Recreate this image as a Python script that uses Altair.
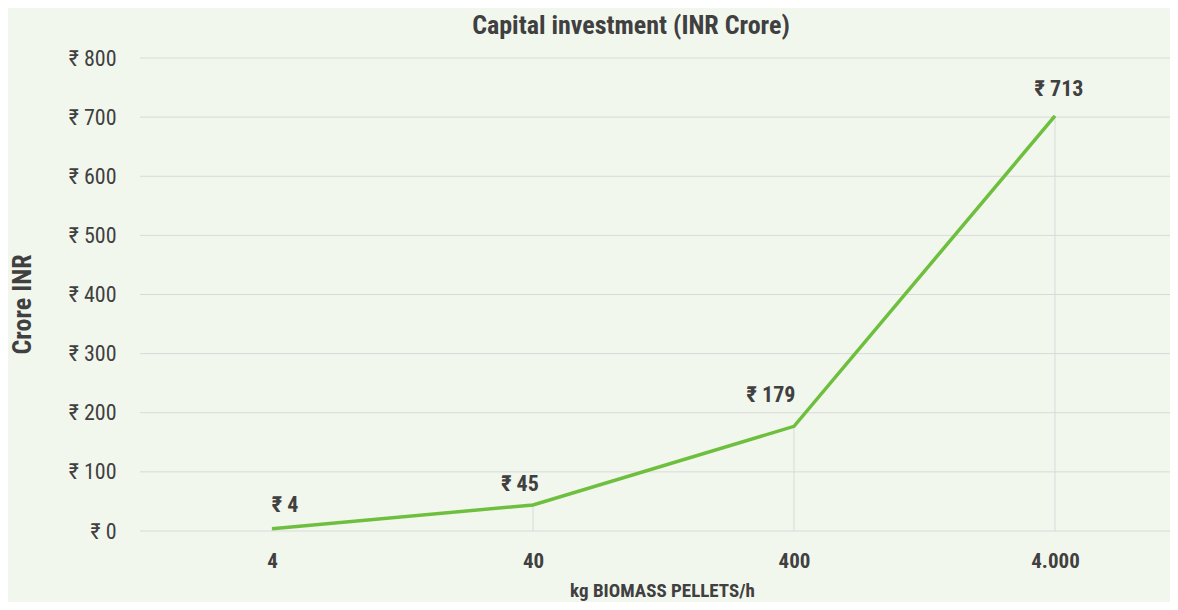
import altair as alt
import pandas as pd

# Data
categories = ["4", "40", "400", "4.000"]
values = [4, 44, 177, 702]
value_labels = ["₹ 4", "₹ 45", "₹ 179", "₹ 713"]
y_ticks = [0, 100, 200, 300, 400, 500, 600, 700, 800]

df = pd.DataFrame({"cat": categories, "val": values, "lab": value_labels})
grid_df = pd.DataFrame({"val": y_ticks})

FONT = "Roboto Condensed, Liberation Sans Narrow, Roboto, sans-serif"
TEXT = "#404040"
GRID = "#d9d9d9"
LINE = "#6fbf3f"

x_enc = alt.X("cat:N", sort=categories,
              scale=alt.Scale(type="point", range=[132, 915], padding=0),
              axis=alt.Axis(title="kg BIOMASS PELLETS/h", labelAngle=0, grid=False,
                            ticks=False, domain=False, labelPadding=19,
                            labelFontSize=21, labelFontWeight="bold",
                            titleFontSize=19, titleFontWeight="bold",
                            titlePadding=10, titleX=522))
y_scale = alt.Scale(domain=[0, 800], nice=False)
y_axis = alt.Axis(title="Crore INR", values=y_ticks,
                  labelExpr="'₹ ' + datum.value",
                  grid=False, ticks=False, domain=False,
                  labelPadding=24, labelFontSize=22,
                  titleFontSize=26, titleFontWeight="bold",
                  titlePadding=33, titleY=246)

base = alt.Chart(df)

grid = alt.Chart(grid_df).mark_rule(color=GRID, strokeWidth=1).encode(
    y=alt.Y("val:Q", scale=y_scale, axis=y_axis),
    x=alt.value(0), x2=alt.value("width"))

drops = base.mark_rule(color=GRID, strokeWidth=1).encode(
    x=x_enc, y=alt.Y("val:Q", scale=y_scale), y2=alt.datum(0))

line = base.mark_line(color=LINE, strokeWidth=3.5).encode(
    x=x_enc, y=alt.Y("val:Q", scale=y_scale))

offsets = [(13, -24), (-13, -21), (-23, -31), (4, -27)]
texts = []
for cat, (dx, dy) in zip(categories, offsets):
    texts.append(
        base.transform_filter(alt.datum.cat == cat).mark_text(
            dx=dx, dy=dy, fontSize=22, fontWeight="bold", color=TEXT, font=FONT
        ).encode(x=alt.X("cat:N", sort=categories),
                 y=alt.Y("val:Q", scale=y_scale), text="lab:N")
    )

chart = alt.layer(grid, drops, line, *texts).properties(
    width=1030, height=473,
    title=alt.TitleParams("Capital investment (INR Crore)", fontSize=26,
                          fontWeight="bold", color=TEXT, font=FONT,
                          anchor="middle", dx=-24, offset=8),
    autosize=alt.AutoSizeParams(type="none"),
    padding={"left": 132, "top": 50, "right": 0, "bottom": 71},
    background="#f2f7ee",
).configure_view(stroke=None).configure_axis(
    labelFont=FONT, titleFont=FONT, labelColor=TEXT, titleColor=TEXT
)

chart.save("out.html", embed_options={"renderer": "svg", "actions": False})
